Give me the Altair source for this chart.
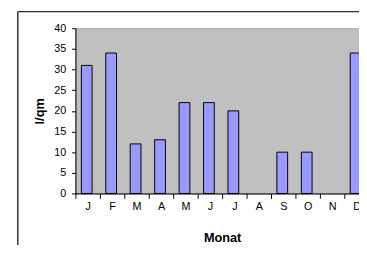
import json
import altair as alt
import pandas as pd

months = ["J", "F", "M", "A", "M", "J", "J", "A", "S", "O", "N", "D"]
rain = [31, 34, 12, 13, 22, 22, 20, None, 10, 10, None, 34]
y_ticks = [0, 5, 10, 15, 20, 25, 30, 35, 40]
x_ticks = list(range(12))

df = pd.DataFrame({"idx": list(range(12)), "month": months, "rain": rain})

W, H = 290, 169
FONT = "Liberation Sans"

x_scale = alt.Scale(domain=[0, 11.6], nice=False, zero=False, padding=0)
y_scale = alt.Scale(domain=[0, 40], nice=False, zero=True, padding=0)

label_expr = json.dumps(months).replace('"', "'") + "[datum.value]"

bars = (
    alt.Chart(df)
    .transform_filter("isValid(datum.rain)")
    .transform_calculate(center="datum.idx + 0.46")
    .mark_bar(size=11, fill="#9999FF", stroke="#000000", strokeWidth=1, orient="vertical")
    .encode(
        x=alt.X(
            "center:Q",
            scale=x_scale,
            axis=alt.Axis(
                values=x_ticks,
                labelExpr=label_expr,
                labelOffset=12.5,
                labelFlush=False,
                labelOverlap=False,
                tickSize=5,
                labelPadding=2,
                grid=False,
                title="Monat",
                titleX=150,
                titleAlign="center",
                titlePadding=21,
            ),
        ),
        y=alt.Y(
            "rain:Q",
            scale=y_scale,
            axis=alt.Axis(
                values=y_ticks,
                tickSize=4,
                labelPadding=6,
                grid=False,
                title="l/qm",
                titlePadding=7,
            ),
        ),
    )
)

frame = pd.DataFrame({"k": [0]})
top_border = alt.Chart(frame).mark_rule(color="#333333", strokeWidth=1.5).encode(
    x=alt.value(-59), x2=alt.value(300), y=alt.value(-17)
)
left_border = alt.Chart(frame).mark_rule(color="#333333", strokeWidth=1.5).encode(
    x=alt.value(-59), y=alt.value(-17), y2=alt.value(240)
)

chart = (
    alt.layer(bars, top_border, left_border)
    .properties(
        width=W,
        height=H,
        autosize=alt.AutoSizeParams(type="none"),
        padding={"left": 69, "top": 18, "right": 0, "bottom": 50},
        background="#FFFFFF",
    )
    .configure_view(fill="#C0C0C0", stroke="#A8A8A8", strokeWidth=1)
    .configure_axis(
        labelFont=FONT,
        labelFontSize=11,
        labelColor="#000000",
        titleFont=FONT,
        titleFontSize=13,
        titleFontWeight="bold",
        titleColor="#000000",
        domainColor="#000000",
        tickColor="#000000",
        domainWidth=1,
        tickWidth=1,
    )
)

chart.save("out.html", embed_options={"renderer": "svg", "actions": False})
